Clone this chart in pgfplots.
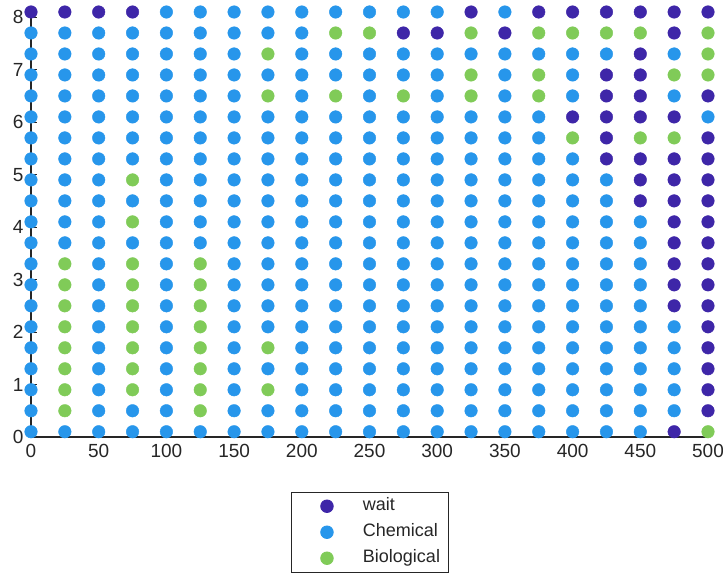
\documentclass[border=0pt]{standalone}
\usepackage{fontspec}
\setmainfont{Liberation Sans}
\usepackage{pgfplots}
\pgfplotsset{compat=1.18}
\definecolor{cwait}{HTML}{3E26A8}
\definecolor{cchem}{HTML}{2796EB}
\definecolor{cbio}{HTML}{80CB58}
\definecolor{axgray}{HTML}{262626}
\begin{document}
\begin{tikzpicture}
\path[use as bounding box] (-31pt,-138pt) rectangle (692pt,437pt);
\begin{axis}[
  scale only axis, width=677pt, height=425pt,
  xmin=0, xmax=500, ymin=0, ymax=8.1,
  clip=false,
  axis lines=left, axis line style={-, axgray, line width=1.1pt},
  xtick={0,50,...,500}, ytick={0,1,...,8},
  tick align=inside, major tick length=6pt,
  tick style={axgray, line width=1.1pt},
  ticklabel style={font=\fontsize{19}{22}\selectfont, text=axgray},
  /pgf/number format/assume math mode=true,
  xticklabel style={yshift=-4pt}, yticklabel style={xshift=-4pt},
  legend style={at={(0.5,-0.129)}, anchor=north, draw=axgray, line width=0.8pt,
    font=\fontsize{18}{21}\selectfont, text=axgray,
    inner xsep=6pt, inner ysep=4pt, row sep=6pt,
    nodes={inner sep=2pt, text height=12.5pt, text depth=3.5pt}},
  legend cell align=left,
  legend image code/.code={\path[draw=none, fill=none] (0pt,0pt) -- (64pt,0pt);
    \draw[#1, only marks] plot coordinates {(30pt,0pt)};},
  every axis plot/.append style={only marks, mark=*, mark size=6.3pt},
]
\addplot[cwait, mark options={draw=cwait, fill=cwait}] coordinates {
(0,8.1)(25,8.1)(50,8.1)(75,8.1)(325,8.1)(375,8.1)(400,8.1)(425,8.1)(450,8.1)(475,8.1)(500,8.1)
(275,7.7)(300,7.7)(350,7.7)(475,7.7)
(450,7.3)
(425,6.9)(450,6.9)
(425,6.5)(450,6.5)(500,6.5)
(400,6.1)(425,6.1)(450,6.1)(475,6.1)
(425,5.7)(500,5.7)
(425,5.3)(450,5.3)(475,5.3)(500,5.3)
(450,4.9)(475,4.9)(500,4.9)
(450,4.5)(475,4.5)(500,4.5)
(475,4.1)(500,4.1)
(475,3.7)(500,3.7)
(475,3.3)(500,3.3)
(475,2.9)(500,2.9)
(475,2.5)(500,2.5)
(500,2.1)(500,1.7)(500,1.3)(500,0.9)(500,0.5)
(475,0.1)
};
\addlegendentry{wait}
\addplot[cchem, mark options={draw=cchem, fill=cchem}] coordinates {
(100,8.1)(125,8.1)(150,8.1)(175,8.1)(200,8.1)(225,8.1)(250,8.1)(275,8.1)(300,8.1)(350,8.1)
(0,7.7)(25,7.7)(50,7.7)(75,7.7)(100,7.7)(125,7.7)(150,7.7)(175,7.7)(200,7.7)
(0,7.3)(25,7.3)(50,7.3)(75,7.3)(100,7.3)(125,7.3)(150,7.3)(200,7.3)(225,7.3)(250,7.3)(275,7.3)(300,7.3)(325,7.3)(350,7.3)(375,7.3)(400,7.3)(425,7.3)(475,7.3)
(0,6.9)(25,6.9)(50,6.9)(75,6.9)(100,6.9)(125,6.9)(150,6.9)(175,6.9)(200,6.9)(225,6.9)(250,6.9)(275,6.9)(300,6.9)(350,6.9)(400,6.9)
(0,6.5)(25,6.5)(50,6.5)(75,6.5)(100,6.5)(125,6.5)(150,6.5)(200,6.5)(250,6.5)(300,6.5)(350,6.5)(400,6.5)(475,6.5)
(0,6.1)(25,6.1)(50,6.1)(75,6.1)(100,6.1)(125,6.1)(150,6.1)(175,6.1)(200,6.1)(225,6.1)(250,6.1)(275,6.1)(300,6.1)(325,6.1)(350,6.1)(375,6.1)(500,6.1)
(0,5.7)(25,5.7)(50,5.7)(75,5.7)(100,5.7)(125,5.7)(150,5.7)(175,5.7)(200,5.7)(225,5.7)(250,5.7)(275,5.7)(300,5.7)(325,5.7)(350,5.7)(375,5.7)
(0,5.3)(25,5.3)(50,5.3)(75,5.3)(100,5.3)(125,5.3)(150,5.3)(175,5.3)(200,5.3)(225,5.3)(250,5.3)(275,5.3)(300,5.3)(325,5.3)(350,5.3)(375,5.3)(400,5.3)
(0,4.9)(25,4.9)(50,4.9)(100,4.9)(125,4.9)(150,4.9)(175,4.9)(200,4.9)(225,4.9)(250,4.9)(275,4.9)(300,4.9)(325,4.9)(350,4.9)(375,4.9)(400,4.9)(425,4.9)
(0,4.5)(25,4.5)(50,4.5)(75,4.5)(100,4.5)(125,4.5)(150,4.5)(175,4.5)(200,4.5)(225,4.5)(250,4.5)(275,4.5)(300,4.5)(325,4.5)(350,4.5)(375,4.5)(400,4.5)(425,4.5)
(0,4.1)(25,4.1)(50,4.1)(100,4.1)(125,4.1)(150,4.1)(175,4.1)(200,4.1)(225,4.1)(250,4.1)(275,4.1)(300,4.1)(325,4.1)(350,4.1)(375,4.1)(400,4.1)(425,4.1)(450,4.1)
(0,3.7)(25,3.7)(50,3.7)(75,3.7)(100,3.7)(125,3.7)(150,3.7)(175,3.7)(200,3.7)(225,3.7)(250,3.7)(275,3.7)(300,3.7)(325,3.7)(350,3.7)(375,3.7)(400,3.7)(425,3.7)(450,3.7)
(0,3.3)(50,3.3)(100,3.3)(150,3.3)(175,3.3)(200,3.3)(225,3.3)(250,3.3)(275,3.3)(300,3.3)(325,3.3)(350,3.3)(375,3.3)(400,3.3)(425,3.3)(450,3.3)
(0,2.9)(50,2.9)(100,2.9)(150,2.9)(175,2.9)(200,2.9)(225,2.9)(250,2.9)(275,2.9)(300,2.9)(325,2.9)(350,2.9)(375,2.9)(400,2.9)(425,2.9)(450,2.9)
(0,2.5)(50,2.5)(100,2.5)(150,2.5)(175,2.5)(200,2.5)(225,2.5)(250,2.5)(275,2.5)(300,2.5)(325,2.5)(350,2.5)(375,2.5)(400,2.5)(425,2.5)(450,2.5)
(0,2.1)(50,2.1)(100,2.1)(150,2.1)(175,2.1)(200,2.1)(225,2.1)(250,2.1)(275,2.1)(300,2.1)(325,2.1)(350,2.1)(375,2.1)(400,2.1)(425,2.1)(450,2.1)(475,2.1)
(0,1.7)(50,1.7)(100,1.7)(150,1.7)(200,1.7)(225,1.7)(250,1.7)(275,1.7)(300,1.7)(325,1.7)(350,1.7)(375,1.7)(400,1.7)(425,1.7)(450,1.7)(475,1.7)
(0,1.3)(50,1.3)(100,1.3)(150,1.3)(175,1.3)(200,1.3)(225,1.3)(250,1.3)(275,1.3)(300,1.3)(325,1.3)(350,1.3)(375,1.3)(400,1.3)(425,1.3)(450,1.3)(475,1.3)
(0,0.9)(50,0.9)(100,0.9)(150,0.9)(200,0.9)(225,0.9)(250,0.9)(275,0.9)(300,0.9)(325,0.9)(350,0.9)(375,0.9)(400,0.9)(425,0.9)(450,0.9)(475,0.9)
(0,0.5)(50,0.5)(75,0.5)(100,0.5)(150,0.5)(175,0.5)(200,0.5)(225,0.5)(250,0.5)(275,0.5)(300,0.5)(325,0.5)(350,0.5)(375,0.5)(400,0.5)(425,0.5)(450,0.5)(475,0.5)
(0,0.1)(25,0.1)(50,0.1)(75,0.1)(100,0.1)(125,0.1)(150,0.1)(175,0.1)(200,0.1)(225,0.1)(250,0.1)(275,0.1)(300,0.1)(325,0.1)(350,0.1)(375,0.1)(400,0.1)(425,0.1)(450,0.1)
};
\addlegendentry{Chemical}
\addplot[cbio, mark options={draw=cbio, fill=cbio}] coordinates {
(225,7.7)(250,7.7)(325,7.7)(375,7.7)(400,7.7)(425,7.7)(450,7.7)(500,7.7)
(175,7.3)(500,7.3)
(325,6.9)(375,6.9)(475,6.9)(500,6.9)
(175,6.5)(225,6.5)(275,6.5)(325,6.5)(375,6.5)
(400,5.7)(450,5.7)(475,5.7)
(75,4.9)
(75,4.1)
(25,3.3)(75,3.3)(125,3.3)
(25,2.9)(75,2.9)(125,2.9)
(25,2.5)(75,2.5)(125,2.5)
(25,2.1)(75,2.1)(125,2.1)
(25,1.7)(75,1.7)(125,1.7)(175,1.7)
(25,1.3)(75,1.3)(125,1.3)
(25,0.9)(75,0.9)(125,0.9)(175,0.9)
(25,0.5)(125,0.5)
(500,0.1)
};
\addlegendentry{Biological}
\end{axis}
\end{tikzpicture}
\end{document}
